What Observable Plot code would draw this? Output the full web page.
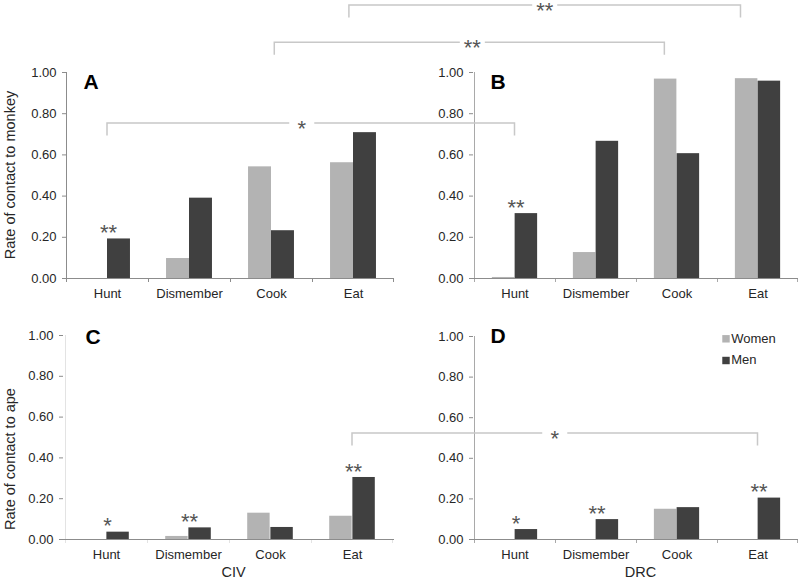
<!DOCTYPE html>
<html>
<head>
<meta charset="utf-8">
<script src="https://cdn.jsdelivr.net/npm/d3@7"></script>
<script src="https://cdn.jsdelivr.net/npm/@observablehq/plot@0.6"></script>
<style>
html, body { margin: 0; padding: 0; background: #fff; }
#chart { position: relative; width: 800px; height: 584px; overflow: hidden; background: #fff;
  font-family: "Liberation Sans", Arial, sans-serif; }
#chart svg { position: absolute; left: 0; top: 0; }
</style>
</head>
<body>
<div id="chart"></div>
<script>
// ---------- data ----------
const activities = ["Hunt", "Dismember", "Cook", "Eat"];
const sexes = ["Women", "Men"];
const sexColors = ["#b3b3b3", "#404040"];
const yTicks = [0, 0.2, 0.4, 0.6, 0.8, 1.0];

// A: CIV, contact to monkey
const civMonkeyWomen = [0.000, 0.097, 0.542, 0.562];
const civMonkeyMen   = [0.192, 0.390, 0.232, 0.708];
const civMonkeySig   = ["**", "", "", ""];
// B: DRC, contact to monkey
const drcMonkeyWomen = [0.005, 0.126, 0.968, 0.970];
const drcMonkeyMen   = [0.315, 0.666, 0.606, 0.958];
const drcMonkeySig   = ["**", "", "", ""];
// C: CIV, contact to ape
const civApeWomen = [0.000, 0.015, 0.129, 0.114];
const civApeMen   = [0.036, 0.057, 0.059, 0.304];
const civApeSig   = ["*", "**", "", "**"];
// D: DRC, contact to ape
const drcApeWomen = [0.000, 0.000, 0.149, 0.000];
const drcApeMen   = [0.049, 0.098, 0.157, 0.204];
const drcApeSig   = ["*", "**", "", "**"];

const panelLetters = ["A", "B", "C", "D"];
const countries = ["CIV", "DRC"];
const yTitles = ["Rate of contact to monkey", "Rate of contact to ape"];

// significance brackets between the CIV and DRC panel of a row
const bracketRows = ["monkey", "monkey", "monkey", "ape"];
const bracketActs = ["Eat", "Cook", "Hunt", "Eat"];
const bracketLevels = [1.325, 1.145, 0.753, 0.52];
const bracketLabels = ["**", "**", "*", "*"];

// ---------- layout / style ----------
const W = 800, H = 584;
const frames = [
  {left: 66, right: 394, top: 72, bottom: 278},
  {left: 473, right: 798, top: 72, bottom: 278},
  {left: 63, right: 394, top: 335, bottom: 539},
  {left: 473, right: 798, top: 336, bottom: 539}
];
const letterOffsets = [[17, 9.3], [17, 9.6], [22, 1.3], [17, 0]];
const legOffsets = [[-0.05, -0.21], [0.04, -0.15], [0, 0], [0, 0]];
const labelNudges = [0, 3, -9, 0];
const axisGrey = "#8c8c8c";
const textColor = "#262626";
const starColor = "#555";
const starSize = 22;
const bracketGrey = "#c8c8c8";

const panelDefs = [
  {women: civMonkeyWomen, men: civMonkeyMen, sig: civMonkeySig},
  {women: drcMonkeyWomen, men: drcMonkeyMen, sig: drcMonkeySig},
  {women: civApeWomen, men: civApeMen, sig: civApeSig},
  {women: drcApeWomen, men: drcApeMen, sig: drcApeSig, legend: true}
];

const chart = document.getElementById("chart");

function makePanel(def, i) {
  const f = frames[i];
  const rows = activities.map((a, k) => ({
    act: a, women: def.women[k], men: def.men[k], sig: def.sig[k],
    top: Math.max(def.women[k], def.men[k])
  }));
  const bw = (f.right - f.left) / activities.length;
  const outer = 0.22 * bw, inner = 0.5 * bw;
  const marks = [
    Plot.barY(rows, {x: "act", y: "women", fill: () => "Women", insetLeft: outer, insetRight: inner}),
    Plot.barY(rows, {x: "act", y: "men", fill: () => "Men", insetLeft: inner, insetRight: outer}),
    Plot.text(rows.filter(d => d.sig), {x: "act", y: "top", text: "sig", lineAnchor: "middle",
      dy: -11.5 + 0.255 * starSize, dx: 1, fontSize: starSize, fill: starColor}),
    // axis lines and category boundary ticks
    Plot.ruleY([0], {stroke: axisGrey}),
    Plot.barY([activities[0]], {x: d => d, y1: () => 0, y2: () => 1, fill: axisGrey,
      insetLeft: 0, insetRight: bw - 1}),
    Plot.barY(activities, {x: d => d, y1: () => 0, y2: () => 0, fill: axisGrey,
      insetLeft: 0, insetRight: bw - 1, insetTop: 0, insetBottom: -4}),
    Plot.barY([activities[activities.length - 1]], {x: d => d, y1: () => 0, y2: () => 0, fill: axisGrey,
      insetLeft: bw - 1, insetRight: 0, insetTop: 0, insetBottom: -4}),
    Plot.axisY({ticks: yTicks, tickFormat: d => d.toFixed(2), tickSize: 4, tickPadding: 6,
      stroke: axisGrey, fill: textColor, label: null}),
    Plot.axisX({tickSize: 0, tickPadding: 10, fill: textColor, label: null}),
    Plot.text([panelLetters[i]], {text: d => d, frameAnchor: "top-left", textAnchor: "start",
      lineAnchor: "middle", dx: letterOffsets[i][0], dy: letterOffsets[i][1],
      fontSize: 21, fontWeight: "bold", fill: "#000"})
  ];
  if (def.legend) {
    sexes.forEach((s, k) => {
      marks.push(Plot.dot([s], {fill: d => d, frameAnchor: "top-right", symbol: "square", r: 4.2,
        dx: -72.5, dy: 2.3 + 21.7 * k}));
      marks.push(Plot.text([s], {text: d => d, frameAnchor: "top-right", textAnchor: "start",
        lineAnchor: "middle", dx: -67.3, dy: 2.8 + 21 * k, fill: textColor, fontSize: 13}));
    });
  }
  const plot = Plot.plot({
    width: W, height: H,
    marginLeft: f.left, marginRight: W - f.right, marginTop: f.top, marginBottom: H - f.bottom,
    style: {background: "transparent", fontFamily: "Liberation Sans, Arial, sans-serif",
      fontSize: "13px", color: textColor, overflow: "visible"},
    x: {domain: activities, padding: 0},
    y: {domain: [0, 1]},
    color: {domain: sexes, range: sexColors},
    marks
  });
  chart.appendChild(plot);
  return plot;
}

const plots = panelDefs.map(makePanel);

// ---------- overlay: brackets and titles ----------
const svg = d3.create("svg").attr("width", W).attr("height", H)
  .style("font-family", "Liberation Sans, Arial, sans-serif").style("overflow", "hidden");

function bandCenter(plot, act) {
  const xs = plot.scale("x");
  return xs.apply(act) + xs.bandwidth / 2;
}
bracketActs.forEach((act, k) => {
  const r = bracketRows[k] === "monkey" ? 0 : 2;
  const pl = plots[r], pr = plots[r + 1];
  const bwl = pl.scale("x").bandwidth, bwr = pr.scale("x").bandwidth;
  const xl = bandCenter(pl, act) + legOffsets[k][0] * bwl;
  const xr = bandCenter(pr, act) + legOffsets[k][1] * bwr;
  const y = pl.scale("y").apply(bracketLevels[k]);
  const leg = 12.5, gap = 12.5, mid = (xl + xr) / 2 + labelNudges[k];
  svg.append("path")
    .attr("d", `M${xl},${y + leg}V${y}H${mid - gap}M${mid + gap},${y}H${xr}V${y + leg}`)
    .attr("fill", "none").attr("stroke", bracketGrey).attr("stroke-width", 1.5);
  svg.append("text").attr("x", mid).attr("y", y + 0.575 * starSize).attr("text-anchor", "middle")
    .attr("font-size", starSize).attr("fill", starColor).text(bracketLabels[k]);
});

// y titles
[0, 2].forEach((r, k) => {
  const f = frames[r];
  const cy = k === 0 ? (f.top + f.bottom) / 2 : 459;
  svg.append("text").attr("transform", `translate(15,${cy}) rotate(-90)`)
    .attr("text-anchor", "middle").attr("font-size", 14.5).attr("fill", textColor).text(yTitles[k]);
});
// country labels
[2, 3].forEach((r, k) => {
  const f = frames[r];
  svg.append("text").attr("x", (f.left + f.right) / 2 + 5).attr("y", 577)
    .attr("text-anchor", "middle").attr("font-size", 14.5).attr("fill", textColor).text(countries[k]);
});

chart.appendChild(svg.node());
</script>
</body>
</html>
